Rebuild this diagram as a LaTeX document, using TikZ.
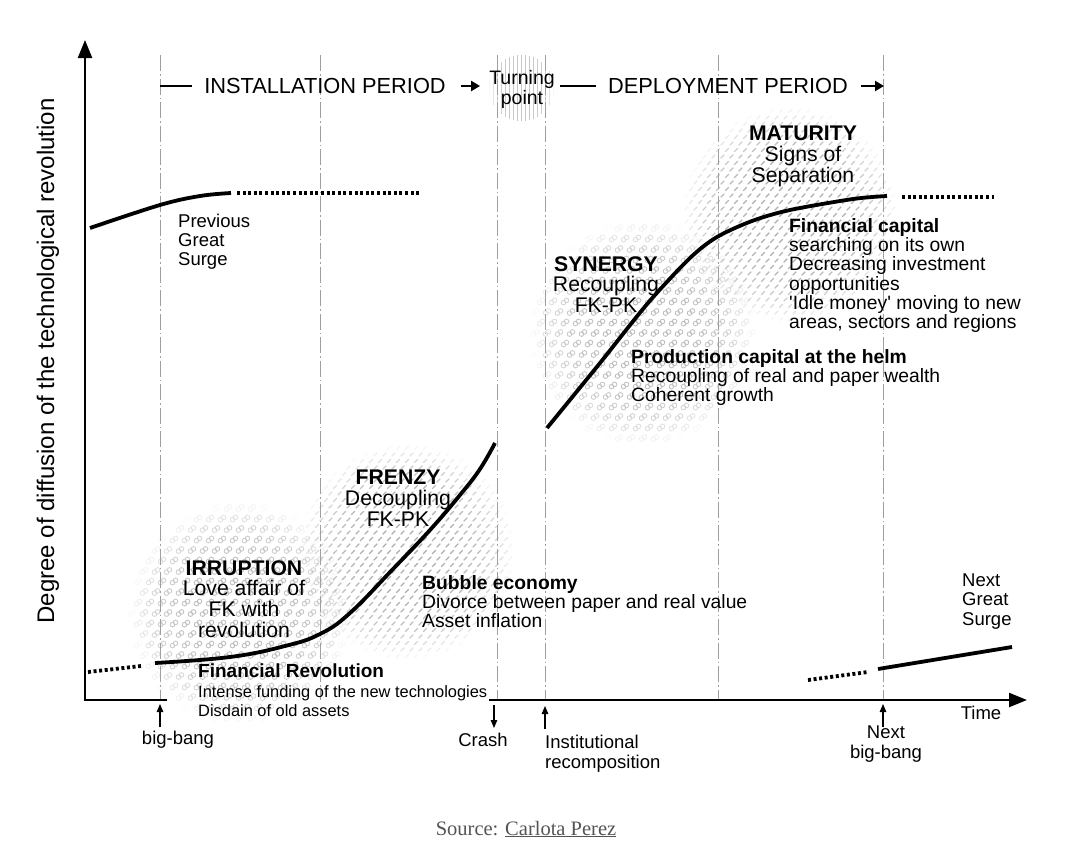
\documentclass[tikz,border=0pt]{standalone}
\usepackage{fontspec}
\setmainfont{Liberation Sans}
\newfontfamily\srcfont{Liberation Serif}
\usetikzlibrary{arrows.meta}
\lineskiplimit=-100pt
\lineskip=0pt
\definecolor{linkgray}{gray}{0.75}
\definecolor{dashgray}{gray}{0.68}
\definecolor{vertgray}{gray}{0.78}
\definecolor{srcgray}{gray}{0.33}

\newcommand{\LinkTex}[3]{%
  \foreach \i in {-10,...,10}{%
    \foreach \j in {-11,...,11}{%
      \pgfmathsetmacro\px{\i*12+6*mod(abs(\j),2)}%
      \pgfmathsetmacro\py{\j*10.5}%
      \pgfmathsetmacro\dd{(\px/#3)^2+(\py/#3)^2}%
      \pgfmathsetmacro\op{max(0,1-\dd^2)}%
      \ifdim \op pt>0.02pt
        \draw[linkgray, line width=0.9pt, opacity=\op] ({#1+\px-1.5},{#2+\py+1.1}) circle (2.3) ({#1+\px+1.5},{#2+\py-1.1}) circle (2.3);
      \fi
    }%
  }%
}
\newcommand{\DashTex}[3]{%
  \foreach \i in {-13,...,13}{%
    \foreach \j in {-17,...,17}{%
      \pgfmathsetmacro\px{\i*9+4.5*mod(abs(\j),2)}%
      \pgfmathsetmacro\py{\j*6.5}%
      \pgfmathsetmacro\dd{(\px/#3)^2+(\py/#3)^2}%
      \pgfmathsetmacro\op{max(0,1-\dd^2)}%
      \ifdim \op pt>0.02pt
        \draw[dashgray, line width=1.2pt, opacity=\op] ({#1+\px-1.8},{#2+\py+1.8}) -- ++(3.6,-3.6);
      \fi
    }%
  }%
}
\newcommand{\VertTex}[3]{%
  \foreach \k in {-8,...,8}{%
    \pgfmathsetmacro\px{\k*4}%
    \pgfmathsetmacro\hh{sqrt(max(0,(#3)^2-(\px)^2))}%
    \pgfmathsetmacro\op{max(0,1-(\px/#3)^4)}%
    \draw[vertgray, line width=0.8pt, opacity=\op] ({#1+\px},{#2-\hh}) -- ({#1+\px},{#2+\hh});
  }%
}

\begin{document}
\begin{tikzpicture}[x=1pt,y=-1pt,
  axisline/.style={line width=2.4pt, line join=miter},
  axisarrow/.style={-{Triangle[length=18pt,width=14pt]}},
  vline/.style={draw=gray!75, line width=0.9pt, dash pattern=on 16pt off 3pt on 1.5pt off 3pt},
  curve/.style={line width=3.8pt, line cap=butt},
  dotcurve/.style={line width=3.8pt, dash pattern=on 3pt off 2.6pt},
  sarrow/.style={line width=1.1pt, -{Triangle[length=8pt,width=6.5pt]}},
  harrow/.style={line width=2.2pt, -{Triangle[length=9pt,width=10pt]}},
  hbar/.style={line width=2pt},
  hdr/.style={font=\fontsize{21.8}{24}\selectfont, inner sep=0pt},
  tpoint/.style={font=\fontsize{19.5}{20}\selectfont, align=center, inner sep=0pt},
  big/.style={font=\fontsize{21.2}{20.8}\selectfont, align=center, inner sep=0pt, anchor=north},
  body/.style={font=\fontsize{19.3}{19.3}\selectfont, align=left, inner sep=0pt, anchor=north west},
  lbl/.style={font=\fontsize{18.5}{20}\selectfont, inner sep=0pt},
]
\useasboundingbox (0,0) rectangle (1080,860);

% ---- textures
\LinkTex{240}{613}{110}
\DashTex{407}{552}{108}
\LinkTex{643}{333}{112}
\DashTex{790}{215}{108}
\VertTex{521}{88}{33}

% ---- vertical period lines
\foreach \x/\n in {160/a,320/b,497/c,545/d,718/e,883/f}{
  \coordinate (v\n top) at (\x,55);
  \coordinate (v\n bot) at (\x,700);
  \draw[vline] (v\n top) -- (v\n bot);
}

% ---- axes
\coordinate (O) at (85,700);
\coordinate (ytip) at (85,40);
\coordinate (xgapL) at (167,700);
\coordinate (xgapR) at (489,700);
\coordinate (xtip) at (1027,700);
\draw[axisline, axisarrow] (xgapL) -- (O) -- (ytip);
\draw[axisline, axisarrow] (xgapR) -- (xtip);

\node[rotate=90, font=\fontsize{24}{24}\selectfont, inner sep=0pt] (ylab) at (48,361) {Degree of diffusion of the technological revolution};
\node[lbl] (time) at (981,713) {Time};

% ---- curves
\draw[curve] plot[smooth, tension=0.6] coordinates {(90,228) (160,205) (200,196) (231,193)};
\draw[dotcurve] (237,193) -- (421,193);
\draw[dotcurve] (88,672) -- (141,666);
\draw[curve] plot[smooth, tension=0.7] coordinates {(155,663) (230,657) (285,646) (320,634) (350,613) (393,569) (430,530) (460,495) (480,469) (495,443)};
\draw[curve] plot[smooth, tension=0.5] coordinates {(547,428) (600,363) (648,303) (690,258) (717,237) (752,221) (790,210) (853,199) (887,196)};
\draw[dotcurve] (902,197) -- (994,197);
\draw[dotcurve] (808,680) -- (868,672);
\draw[curve] (878,669) -- (1012,647);

% ---- header
\coordinate (hbarA) at (160,86);
\coordinate (hbarB) at (192,86);
\draw[hbar] (hbarA) -- (hbarB);
\node[hdr] (inst) at (325,86) {INSTALLATION PERIOD};
\node[tpoint] (tp) at (522,89) {Turning\\point};
\coordinate (tpW) at (tp.west |- inst.east);
\coordinate (tpE) at (tp.east |- inst.east);
\draw[harrow] ([xshift=15pt]inst.east) -- ([xshift=-9pt]tpW);
\node[hdr] (dep) at (728,86) {DEPLOYMENT PERIOD};
\draw[hbar] ([xshift=5pt]tpE) -- ([xshift=-12pt]dep.west);
\coordinate (depend) at (884,86);
\draw[harrow] ([xshift=13pt]dep.east) -- (depend);

% ---- phase labels
\node[big] (irr) at (244,560) {\textbf{IRRUPTION}\\Love affair of\\FK with\\revolution};
\node[big] (fre) at (398,470) {\textbf{FRENZY}\\Decoupling\\FK-PK};
\node[big] (syn) at (606,256) {\textbf{SYNERGY}\\Recoupling\\FK-PK};
\node[big] (mat) at (803,126) {\textbf{MATURITY}\\Signs of\\Separation};

\node[body] (fincap) at (789,218) {\textbf{Financial capital}\\searching on its own\\Decreasing investment\\opportunities\\\textquotesingle Idle money\textquotesingle{} moving to new\\areas, sectors and regions};
\node[body] (prodcap) at (631,349) {\textbf{Production capital at the helm}\\Recoupling of real and paper wealth\\Coherent growth};
\node[body] (bubble) at (422,575) {\textbf{Bubble economy}\\Divorce between paper and real value\\Asset inflation};
\node[body, font=\fontsize{16.4}{19.5}\selectfont] (finrev) at (198,664) {{\fontsize{19}{19.5}\selectfont\textbf{Financial Revolution}}\\Intense funding of the new technologies\\Disdain of old assets};

\node[body, font=\fontsize{18.5}{19.3}\selectfont] (prev) at (178,213.5) {Previous\\Great\\Surge};
\node[body, font=\fontsize{18.5}{19.3}\selectfont] (next) at (962,573.5) {Next\\Great\\Surge};

% ---- bottom event markers
\coordinate (bbT) at (160,727);
\coordinate (bbH) at (160,704);
\draw[sarrow] (bbT) -- (bbH);
\node[lbl, anchor=north] (bigbang) at (178,730.5) {big-bang};

\coordinate (crT) at (494,705);
\coordinate (crH) at (494,728);
\draw[sarrow] (crT) -- (crH);
\node[lbl, anchor=north] (crash) at (483,733) {Crash};

\coordinate (inT) at (545,729);
\coordinate (inH) at (545,706);
\draw[sarrow] (inT) -- (inH);
\node[lbl, anchor=north west, align=left, font=\fontsize{18.5}{20}\selectfont] (inst2) at (545,735) {Institutional\\recomposition};

\coordinate (nbT) at (883,727);
\coordinate (nbH) at (883,704);
\draw[sarrow] (nbT) -- (nbH);
\node[lbl, anchor=north, align=center, font=\fontsize{18.5}{20}\selectfont] (nextbb) at (886,726) {Next\\big-bang};

% ---- source
\node[font=\srcfont\fontsize{20.5}{22}\selectfont, text=srcgray, inner sep=0pt] (src) at (526,829) {Source: \underline{Carlota Perez}};
\end{tikzpicture}
\end{document}
